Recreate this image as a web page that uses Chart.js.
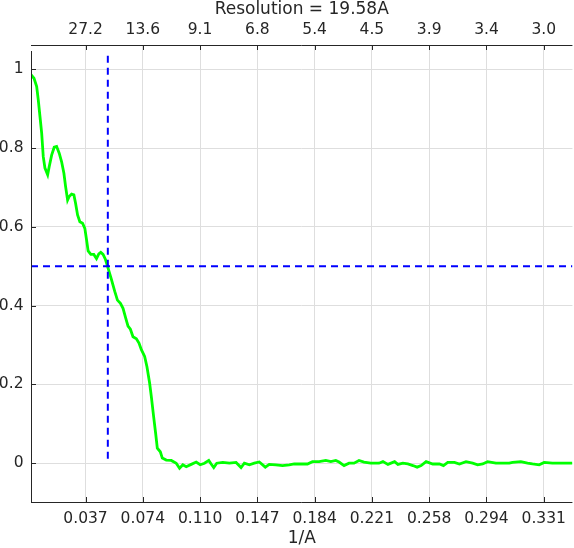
<!DOCTYPE html>
<html>
<head>
<meta charset="utf-8">
<script src="https://cdn.jsdelivr.net/npm/chart.js@4/dist/chart.umd.min.js"></script>
<style>
html,body{margin:0;padding:0;background:#fff;}
#c{display:block;}
</style>
</head>
<body>
<canvas id="c" width="574" height="548"></canvas>
<script>
// ---- data ----
const freq = [0.00176,0.00368,0.00541,0.00643,0.00752,0.00861,0.00963,0.01072,0.01245,0.01347,0.01501,0.01667,0.01821,0.01987,0.02141,0.02288,0.02397,0.02525,0.02627,0.02781,0.02928,0.03037,0.03165,0.03312,0.03485,0.03632,0.03741,0.03843,0.04016,0.04208,0.04381,0.04528,0.04656,0.04803,0.04957,0.05123,0.05315,0.05552,0.05724,0.05917,0.06083,0.06256,0.06403,0.06556,0.06723,0.06940,0.07107,0.07260,0.07471,0.07619,0.07792,0.07900,0.08048,0.08176,0.08284,0.08476,0.08604,0.08860,0.09180,0.09500,0.09711,0.09923,0.10140,0.10460,0.10780,0.11036,0.11311,0.11587,0.11740,0.11907,0.12099,0.12483,0.12911,0.13340,0.13660,0.13871,0.14191,0.14511,0.14831,0.15215,0.15471,0.15900,0.16322,0.16751,0.17071,0.17391,0.17922,0.18242,0.18671,0.19100,0.19420,0.19740,0.19951,0.20271,0.20591,0.20911,0.21231,0.21551,0.21980,0.22511,0.22767,0.23087,0.23516,0.23727,0.24047,0.24367,0.24687,0.24962,0.25218,0.25538,0.25967,0.26396,0.26651,0.26927,0.27356,0.27676,0.28098,0.28527,0.28847,0.29167,0.29487,0.30018,0.30447,0.30876,0.31087,0.31618,0.32047,0.32367,0.32795,0.33115,0.33647,0.34287,0.34927];
const fsc = [0.986,0.977,0.956,0.922,0.880,0.838,0.778,0.749,0.732,0.753,0.782,0.802,0.804,0.787,0.765,0.736,0.702,0.668,0.677,0.683,0.681,0.660,0.630,0.613,0.609,0.596,0.567,0.539,0.530,0.530,0.519,0.531,0.535,0.530,0.517,0.495,0.470,0.436,0.414,0.406,0.393,0.368,0.348,0.340,0.321,0.316,0.305,0.288,0.271,0.245,0.203,0.169,0.118,0.076,0.038,0.029,0.013,0.008,0.007,0.000,-0.013,-0.004,-0.009,-0.003,0.003,-0.004,0.000,0.007,-0.002,-0.011,0.000,0.002,0.000,0.002,-0.011,0.000,-0.004,0.000,0.003,-0.010,-0.003,-0.004,-0.006,-0.004,-0.002,-0.002,-0.002,0.004,0.004,0.007,0.004,0.007,0.003,-0.006,0.000,0.000,0.007,0.003,0.000,0.000,0.004,-0.003,0.004,-0.003,0.000,-0.002,-0.006,-0.010,-0.006,0.004,-0.002,-0.002,-0.006,0.002,0.002,-0.002,0.004,0.000,-0.004,-0.002,0.004,0.000,0.000,0.000,0.002,0.004,0.000,-0.002,-0.004,0.002,0.000,0.000,0.000];
const threshold = 0.5;
const resolution = 19.58;
const xTickValues = [0.03676,0.07353,0.11029,0.14706,0.18382,0.22059,0.25735,0.29412,0.33088];
const xTickLabels = ['0.037','0.074','0.110','0.147','0.184','0.221','0.258','0.294','0.331'];
const topTickLabels = ['27.2','13.6','9.1','6.8','5.4','4.5','3.9','3.4','3.0'];
const yTickValues = [0,0.2,0.4,0.6,0.8,1];
const yTickLabels = ['0','0.2','0.4','0.6','0.8','1'];
const xMin = 0.00176, xMax = 0.3493, yMin = -0.0985, yMax = 1.0615;

const TXT = '#262626';
const FONT = 'DejaVu Sans';

const insideTicks = {
  id: 'insideTicks',
  afterDraw(chart) {
    const ctx = chart.ctx, a = chart.chartArea;
    const xs = chart.scales.x, ys = chart.scales.y;
    ctx.save();
    ctx.strokeStyle = TXT;
    ctx.lineWidth = 1;
    ctx.beginPath();
    // axes lines
    ctx.moveTo(a.left + 0.5, a.top + 6); ctx.lineTo(a.left + 0.5, a.bottom + 0.5);
    ctx.moveTo(a.left, a.bottom + 0.5); ctx.lineTo(a.right, a.bottom + 0.5);
    ctx.moveTo(a.left, a.top + 0.5); ctx.lineTo(a.right, a.top + 0.5);
    xTickValues.forEach(v => {
      const px = Math.round(xs.getPixelForValue(v)) + 0.5;
      ctx.moveTo(px, a.bottom); ctx.lineTo(px, a.bottom - 5);
      ctx.moveTo(px, a.top); ctx.lineTo(px, a.top + 5);
    });
    yTickValues.forEach(v => {
      const py = Math.round(ys.getPixelForValue(v)) + 0.5;
      ctx.moveTo(a.left, py); ctx.lineTo(a.left + 5, py);
    });
    ctx.stroke();
    ctx.restore();
  }
};

new Chart(document.getElementById('c'), {
  type: 'line',
  data: {
    datasets: [
      {
        data: [{x: 1/resolution, y: 1.034}, {x: 1/resolution, y: 0}],
        borderColor: '#0000ff', borderWidth: 2, borderDash: [7,5],
        pointRadius: 0, fill: false, tension: 0
      },
      {
        data: [{x: xMin, y: threshold}, {x: xMax, y: threshold}],
        borderColor: '#0000ff', borderWidth: 2, borderDash: [7,5],
        pointRadius: 0, fill: false, tension: 0
      },
      {
        data: freq.map((f, i) => ({x: f, y: fsc[i]})),
        borderColor: '#00ff00', borderWidth: 2.8,
        pointRadius: 0, fill: false, tension: 0
      }
    ]
  },
  options: {
    responsive: false,
    animation: false,
    devicePixelRatio: 1,
    layout: { padding: 0 },
    plugins: { legend: { display: false }, tooltip: { enabled: false } },
    scales: {
      x: {
        type: 'linear', position: 'bottom', min: xMin, max: xMax,
        afterBuildTicks: s => { s.ticks = xTickValues.map(v => ({value: v})); },
        afterFit: s => { s.height = 46; },
        ticks: {
          autoSkip: false, maxRotation: 0, padding: 8, color: TXT,
          font: {family: FONT, size: 15.5},
          callback: (v, i) => xTickLabels[i]
        },
        grid: { color: '#dedede', drawTicks: false },
        border: { display: false },
        title: { display: true, text: '1/A', color: TXT, font: {family: FONT, size: 17}, padding: {top: 0, bottom: -1} }
      },
      x2: {
        type: 'linear', position: 'top', min: xMin, max: xMax,
        afterBuildTicks: s => { s.ticks = xTickValues.map(v => ({value: v})); },
        afterFit: s => { s.height = 45; },
        ticks: {
          autoSkip: false, maxRotation: 0, padding: 6, color: TXT,
          font: {family: FONT, size: 15.5},
          callback: (v, i) => topTickLabels[i]
        },
        grid: { display: false, drawTicks: false },
        border: { display: false },
        title: { display: true, text: 'Resolution = ' + resolution.toFixed(2) + 'A', color: TXT, font: {family: FONT, size: 17}, padding: {top: -1, bottom: 0} }
      },
      y: {
        type: 'linear', position: 'left', min: yMin, max: yMax,
        afterBuildTicks: s => { s.ticks = yTickValues.map(v => ({value: v})); },
        afterFit: s => { s.width = 31; },
        ticks: {
          padding: 7.5, color: TXT,
          font: {family: FONT, size: 15.5},
          callback: (v, i) => yTickLabels[i]
        },
        grid: { color: '#dedede', drawTicks: false },
        border: { display: false }
      }
    }
  },
  plugins: [insideTicks]
});
</script>
</body>
</html>
